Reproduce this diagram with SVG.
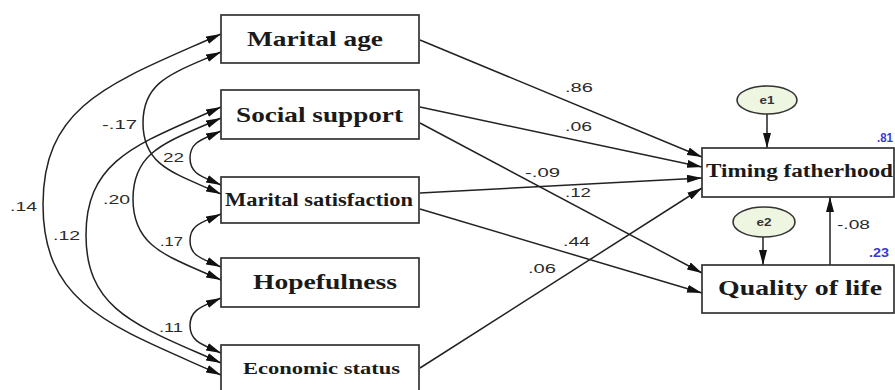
<svg xmlns="http://www.w3.org/2000/svg" width="895" height="390" viewBox="0 0 895 390">
<style>
.box{fill:#ffffff;stroke:#333333;stroke-width:1.7}
.err{fill:#eef5e1;stroke:#333333;stroke-width:1.6}
.nt{font-family:"Liberation Serif","Times New Roman",serif;font-weight:bold;fill:#1a1a1a}
.et{font-family:"Liberation Sans",Arial,sans-serif;font-weight:bold;font-size:11px;fill:#333333}
.lbl{font-family:"Liberation Sans",Arial,sans-serif;font-size:12px;fill:#2a2a2a}
.r2{font-family:"Liberation Sans",Arial,sans-serif;font-size:12px;font-weight:bold;fill:#3838d0}
.ln{fill:none;stroke:#222222;stroke-width:1.5;marker-end:url(#ah)}
.cv{fill:none;stroke:#222222;stroke-width:1.5;marker-start:url(#ah);marker-end:url(#ah)}
</style>
<defs>
<marker id="ah" markerUnits="userSpaceOnUse" viewBox="0 0 15 8" refX="15" refY="4" markerWidth="15" markerHeight="8" orient="auto-start-reverse">
<path d="M0,0 L15,4 L0,8 z" fill="#111111"/>
</marker>
</defs>
<rect width="895" height="390" fill="#ffffff"/>
<g id="connectors">
<path class="cv" d="M221,34 C114,82 43,102.5 43,204.5 C43,306.5 114,327 221,375"/>
<path class="cv" d="M221,52 C174,73 143,80 143,123 C143,166 174,173 221,194"/>
<path class="cv" d="M221,107 C140,143.5 86,158 86,235 C86,312 140,326.5 221,363"/>
<path class="cv" d="M221,118 C168,142 133,150 133,199 C133,248 168,256 221,280"/>
<path class="cv" d="M221,131 C202,139.5 190,142 190,158 C190,174 202,176.5 221,185"/>
<path class="cv" d="M221,214 C202,222.5 190,224.5 190,240.5 C190,256.5 202,258.5 221,267"/>
<path class="cv" d="M221,298 C202,306.5 190,309.5 190,325.5 C190,341.5 202,344.5 221,353"/>
<line class="ln" x1="420" y1="40" x2="702" y2="157"/>
<line class="ln" x1="420" y1="107" x2="702" y2="167"/>
<line class="ln" x1="420" y1="123" x2="702" y2="273"/>
<line class="ln" x1="420" y1="193" x2="702" y2="178"/>
<line class="ln" x1="420" y1="209" x2="702" y2="293"/>
<line class="ln" x1="420" y1="368" x2="702" y2="188"/>
<line class="ln" x1="767" y1="114" x2="767" y2="148"/>
<line class="ln" x1="763" y1="237" x2="763" y2="265"/>
<line class="ln" x1="830" y1="265" x2="830" y2="197"/>
<text class="lbl" x="10" y="211" textLength="27" lengthAdjust="spacingAndGlyphs">.14</text>
<text class="lbl" x="53" y="240" textLength="27" lengthAdjust="spacingAndGlyphs">.12</text>
<text class="lbl" x="103" y="204" textLength="27" lengthAdjust="spacingAndGlyphs">.20</text>
<text class="lbl" x="102" y="129" textLength="35" lengthAdjust="spacingAndGlyphs">-.17</text>
<text class="lbl" x="163" y="162" textLength="21" lengthAdjust="spacingAndGlyphs">22</text>
<text class="lbl" x="160" y="246" textLength="23" lengthAdjust="spacingAndGlyphs">.17</text>
<text class="lbl" x="159" y="332" textLength="24" lengthAdjust="spacingAndGlyphs">.11</text>
<text class="lbl" x="565" y="92" textLength="28" lengthAdjust="spacingAndGlyphs">.86</text>
<text class="lbl" x="565" y="131" textLength="27" lengthAdjust="spacingAndGlyphs">.06</text>
<text class="lbl" x="525" y="177" textLength="35" lengthAdjust="spacingAndGlyphs">-.09</text>
<text class="lbl" x="565" y="197" textLength="26" lengthAdjust="spacingAndGlyphs">.12</text>
<text class="lbl" x="563" y="246" textLength="27" lengthAdjust="spacingAndGlyphs">.44</text>
<text class="lbl" x="528" y="273" textLength="28" lengthAdjust="spacingAndGlyphs">.06</text>
<text class="lbl" x="837" y="229" textLength="33" lengthAdjust="spacingAndGlyphs">-.08</text>
</g>
<g id="marital-age">
<rect class="box" x="221" y="15" width="198" height="48"/>
<text class="nt" x="247" y="46" font-size="21" textLength="136" lengthAdjust="spacingAndGlyphs">Marital age</text>
</g>
<g id="social-support">
<rect class="box" x="221" y="90" width="198" height="49"/>
<text class="nt" x="236" y="122" font-size="21" textLength="167" lengthAdjust="spacingAndGlyphs">Social support</text>
</g>
<g id="marital-satisfaction">
<rect class="box" x="221" y="177" width="198" height="46"/>
<text class="nt" x="225" y="206" font-size="18" textLength="188" lengthAdjust="spacingAndGlyphs">Marital satisfaction</text>
</g>
<g id="hopefulness">
<rect class="box" x="221" y="258" width="198" height="49"/>
<text class="nt" x="253" y="289" font-size="21" textLength="144" lengthAdjust="spacingAndGlyphs">Hopefulness</text>
</g>
<g id="economic-status">
<rect class="box" x="221" y="345" width="198" height="49"/>
<text class="nt" x="243" y="374" font-size="17" textLength="157" lengthAdjust="spacingAndGlyphs">Economic status</text>
</g>
<g id="timing-fatherhood">
<rect class="box" x="702" y="148" width="192" height="49"/>
<text class="nt" x="706" y="177" font-size="18" textLength="187" lengthAdjust="spacingAndGlyphs">Timing fatherhood</text>
<text class="r2" x="877" y="142" textLength="16" lengthAdjust="spacingAndGlyphs">.81</text>
</g>
<g id="quality-of-life">
<rect class="box" x="702" y="265" width="192" height="48"/>
<text class="nt" x="718" y="295" font-size="21" textLength="164" lengthAdjust="spacingAndGlyphs">Quality of life</text>
<text class="r2" x="869" y="257" textLength="20" lengthAdjust="spacingAndGlyphs">.23</text>
</g>
<g id="e1">
<ellipse class="err" cx="767" cy="100" rx="30" ry="14"/>
<text class="et" x="767" y="104" text-anchor="middle" textLength="15" lengthAdjust="spacingAndGlyphs">e1</text>
</g>
<g id="e2">
<ellipse class="err" cx="764" cy="222" rx="31" ry="15"/>
<text class="et" x="764" y="226" text-anchor="middle" textLength="15" lengthAdjust="spacingAndGlyphs">e2</text>
</g>
</svg>
